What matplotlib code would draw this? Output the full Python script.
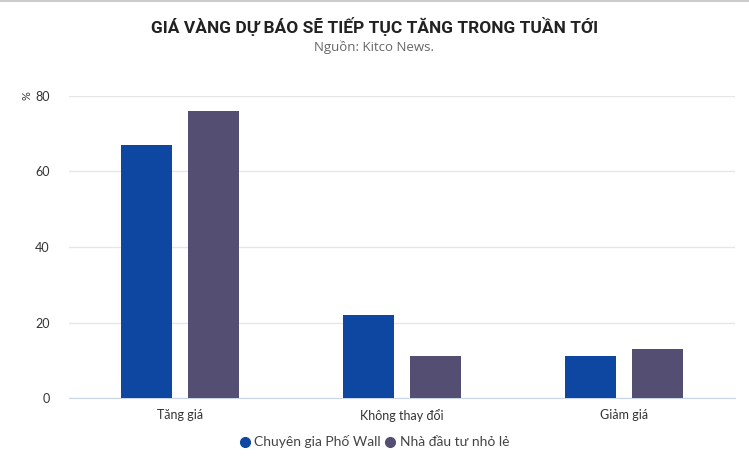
import matplotlib.pyplot as plt
from matplotlib.lines import Line2D
import numpy as np

plt.rcParams['font.family'] = ['Lato', 'DejaVu Sans']

categories = ["Tăng giá", "Không thay đổi", "Giảm giá"]
series_names = ["Chuyên gia Phố Wall", "Nhà đầu tư nhỏ lẻ"]
wall_street = [67, 22, 11]
retail = [76, 11, 13]
colors = ["#0D47A1", "#544E72"]

fig = plt.figure(figsize=(7.49, 4.67), dpi=100)
ax = fig.add_axes([69 / 749, 69 / 467, 666 / 749, 302 / 467])

x = np.arange(len(categories))
w = 0.234
off = 0.151
ax.bar(x - off, wall_street, w, color=colors[0], zorder=3)
ax.bar(x + off, retail, w, color=colors[1], zorder=3)

ax.set_xlim(-0.5, 2.5)
ax.set_ylim(0, 80)
ax.set_yticks([0, 20, 40, 60, 80])
ax.set_xticks(x)
ax.set_xticklabels(categories)
ax.grid(axis="y", color="#e6e6e6", linewidth=1, zorder=0)
for s in ["top", "right", "left"]:
    ax.spines[s].set_visible(False)
ax.spines["bottom"].set_color("#ccd6eb")
ax.tick_params(axis="y", length=0, labelsize=9, colors="#333333", pad=14)
ax.tick_params(axis="x", length=0, labelsize=9, colors="#333333", pad=8)

ax.text(-0.063, 1.0, "%", transform=ax.transAxes, rotation=90, fontsize=8,
        color="#333333", ha="center", va="center")

fig.text(0.5, 1 - 27 / 467, "GIÁ VÀNG DỰ BÁO SẼ TIẾP TỤC TĂNG TRONG TUẦN TỚI",
         ha="center", va="center", fontsize=12.5, fontweight="bold", color="#222222",
         family=["Roboto", "DejaVu Sans"])
fig.text(0.5, 1 - 47 / 467, "Nguồn: Kitco News.", ha="center", va="center",
         fontsize=9.5, color="#666666", family=["Open Sans", "DejaVu Sans"])

# round legend markers like the original
handles = [Line2D([], [], marker="o", linestyle="", color=c, markersize=7) for c in colors]
fig.legend(handles, series_names, loc="center", bbox_to_anchor=(0.5, 1 - 442 / 467),
           ncol=2, frameon=False, fontsize=10, handlelength=0.7, handletextpad=0.35,
           columnspacing=0.3, labelcolor="#444444")

fig.add_artist(Line2D([0, 1], [0.997, 0.997], color="#cccccc", linewidth=1.5))

fig.savefig("out.png", dpi=100)
